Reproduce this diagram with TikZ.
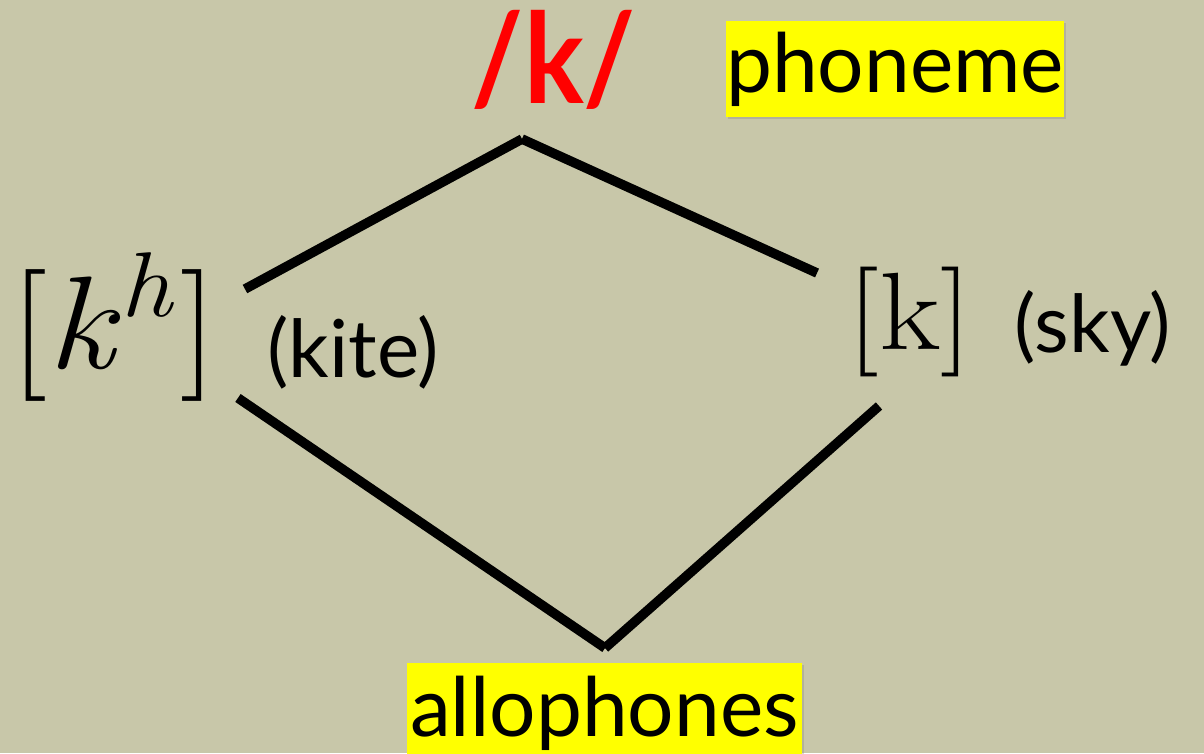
\documentclass[tikz,border=0pt]{standalone}
\usepackage{fontspec}
\setmainfont{Lato}
\newfontfamily\lmr{Latin Modern Roman}
\usetikzlibrary{shadows}
\definecolor{bg}{HTML}{C8C7A9}
\definecolor{hl}{HTML}{FFFF00}
\begin{document}
\begin{tikzpicture}[x=1pt,y=-1pt,
  conn/.style={line width=9.5pt, black},
  connshadow/.style={line width=9.5pt, black, opacity=0.22},
  hlbox/.style={fill=hl, inner sep=0pt, text=black,
    drop shadow={opacity=0.3, shadow xshift=2pt, shadow yshift=-2pt}},
  big/.style={font=\fontsize{82}{82}\selectfont},
  mid/.style={font=\fontsize{80}{80}\selectfont},
  mathbig/.style={font=\lmr\fontsize{132}{132}\selectfont}]
\fill[bg] (0,0) rectangle (1204,753);
\useasboundingbox (0,0) rectangle (1204,753);

% labels
\node[font=\fontsize{112}{112}\selectfont\bfseries, text=red] (phon) at (554,60) {\scalebox{1}[1.12]{/k/}};
\node[hlbox, big, minimum width=338pt, minimum height=96pt] (phlabel) at (895,69) {phoneme};
\node[hlbox, big, minimum width=395pt, minimum height=100pt] (allo) at (604.5,713) {allophones};
\node[mathbig] (kh) at (114,327) {\scalebox{1.12}[1]{[\textit{k}\raisebox{0.4em}{\fontsize{92}{92}\selectfont\itshape h}\kern0.06em]}};
\node[mid] (kite) at (353,352) {(kite)};
\node[font=\lmr\fontsize{110}{110}\selectfont] (k) at (910,322) {\scalebox{1.15}[1]{[k]}};
\node[mid] (sky) at (1093,328) {(sky)};

% connector ends
\coordinate (top) at (522,139);
\coordinate (bot) at (605,648);
\coordinate (khU) at (245,289);
\coordinate (kU) at (817,273);
\coordinate (khD) at (238,398);
\coordinate (kD) at (879,406);

\begin{scope}[shift={(2,3)}]
\draw[connshadow] (khU) -- (top);
\draw[connshadow] (top) -- (kU);
\draw[connshadow] (khD) -- (bot);
\draw[connshadow] (bot) -- (kD);
\end{scope}
\draw[conn] (khU) -- (top);
\draw[conn] (top) -- (kU);
\draw[conn] (khD) -- (bot);
\draw[conn] (bot) -- (kD);
\end{tikzpicture}
\end{document}
